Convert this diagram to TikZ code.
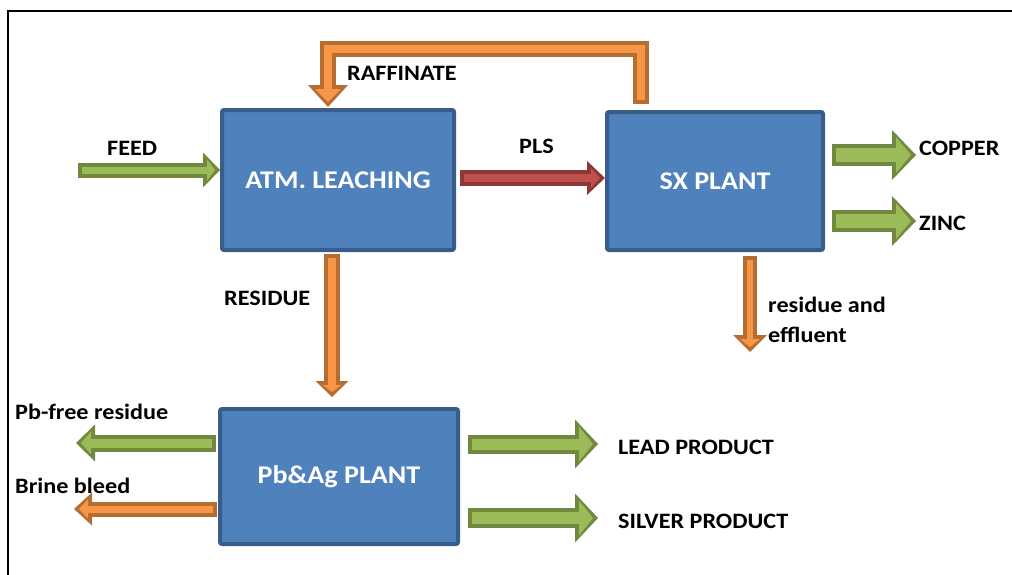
\documentclass[tikz,border=0pt]{standalone}
\usepackage{fontspec}
\setmainfont[FakeStretch=1.1]{Carlito}
\usetikzlibrary{arrows.meta,calc}
\definecolor{gdark}{HTML}{71893F}
\definecolor{glight}{HTML}{9BBB59}
\definecolor{odark}{HTML}{B66D31}
\definecolor{olight}{HTML}{F79646}
\definecolor{rdark}{HTML}{8C3836}
\definecolor{rlight}{HTML}{C0504D}
\definecolor{bfill}{HTML}{4F81BD}
\definecolor{bline}{HTML}{385D8A}
\newcommand\blockarrow[6]{%
  \pgfmathsetlengthmacro\baIW{#3-8pt}%
  \pgfmathsetlengthmacro\baHW{#4-14pt}%
  \pgfmathsetlengthmacro\baHL{#5-9pt}%
  \draw[#1,line width=#3,line join=miter,-{Triangle[length=#5,width=#4,line width=0pt]}] #6;
  \draw[#2,line width=\baIW,line join=miter,shorten <=4pt,shorten >=5pt,-{Triangle[length=\baHL,width=\baHW,line width=0pt]}] #6;
}
\tikzset{
  plant/.style={draw=bline,fill=bfill,line width=4pt,rounded corners=2pt,text=white,
    font=\fontsize{25.5}{30}\selectfont\bfseries,inner sep=0pt},
  lbl/.style={anchor=west,inner sep=0pt,font=\fontsize{22}{30}\selectfont\bfseries,text=black},
}
\begin{document}
\begin{tikzpicture}[x=1pt,y=-1pt]
\useasboundingbox (0,0) rectangle (1012,574);
\draw[line width=2pt] (8,575) -- (8,11) -- (1013,11);
% plants
\node[plant,minimum width=232pt,minimum height=140pt] (atm) at (338,180) {ATM. LEACHING};
\node[plant,minimum width=216pt,minimum height=138pt] (sx) at (715,181) {SX PLANT};
\node[plant,minimum width=238pt,minimum height=135pt] (pb) at (339,476.5) {Pb\&Ag PLANT};
% free-end coordinates
\coordinate (feedS) at (78,170);
\coordinate (plsS) at (460,178);
\coordinate (rafS) at (641,104);
\coordinate (rafA) at (641,49);
\coordinate (rafB) at (328,49);
\coordinate (rafE) at (328,107);
\coordinate (resS) at (332,254);
\coordinate (resE) at (332,397);
\coordinate (cuS) at (832,155);
\coordinate (cuE) at (916,155);
\coordinate (znS) at (832,221);
\coordinate (znE) at (916,221);
\coordinate (effS) at (750,256);
\coordinate (effE) at (750,352);
\coordinate (pbfS) at (216,443);
\coordinate (pbfE) at (76,443);
\coordinate (brS) at (217,509);
\coordinate (brE) at (74,509);
\coordinate (ldS) at (468,444);
\coordinate (ldE) at (598,444);
\coordinate (agS) at (468,518);
\coordinate (agE) at (598,518);
% arrows
\blockarrow{gdark}{glight}{15pt}{35pt}{17pt}{(feedS) -- (feedS -| atm.west)}
\blockarrow{rdark}{rlight}{16pt}{34pt}{18pt}{(plsS) -- (plsS -| sx.west)}
\blockarrow{odark}{olight}{16pt}{40pt}{22pt}{(rafS) -- (rafA) -- (rafB) -- (rafE)}
\blockarrow{odark}{olight}{16pt}{33pt}{16pt}{(resS) -- (resE)}
\blockarrow{gdark}{glight}{22pt}{50pt}{24pt}{(cuS) -- (cuE)}
\blockarrow{gdark}{glight}{22pt}{50pt}{24pt}{(znS) -- (znE)}
\blockarrow{odark}{olight}{14pt}{34pt}{17pt}{(effS) -- (effE)}
\blockarrow{gdark}{glight}{17pt}{37pt}{19pt}{(pbfS) -- (pbfE)}
\blockarrow{odark}{olight}{15pt}{33pt}{18pt}{(brS) -- (brE)}
\blockarrow{gdark}{glight}{19pt}{49pt}{23pt}{(ldS) -- (ldE)}
\blockarrow{gdark}{glight}{20pt}{49pt}{23pt}{(agS) -- (agE)}
% labels
\node[lbl] (lfeed) at (107,148) {FEED};
\node[lbl] (lraf) at (347,73) {RAFFINATE};
\node[lbl] (lpls) at (519,146) {PLS};
\node[lbl] (lres) at (224,298) {RESIDUE};
\node[lbl] (lcu) at (919,148) {COPPER};
\node[lbl] (lzn) at (919,223) {ZINC};
\node[lbl] (leff1) at (768,305) {residue and};
\node[lbl] (leff2) at (768,335) {effluent};
\node[lbl] (lpbf) at (15,412) {Pb-free residue};
\node[lbl] (lbr) at (15,486) {Brine bleed};
\node[lbl] (lld) at (618,447) {LEAD PRODUCT};
\node[lbl] (lag) at (618,521) {SILVER PRODUCT};
\end{tikzpicture}
\end{document}
